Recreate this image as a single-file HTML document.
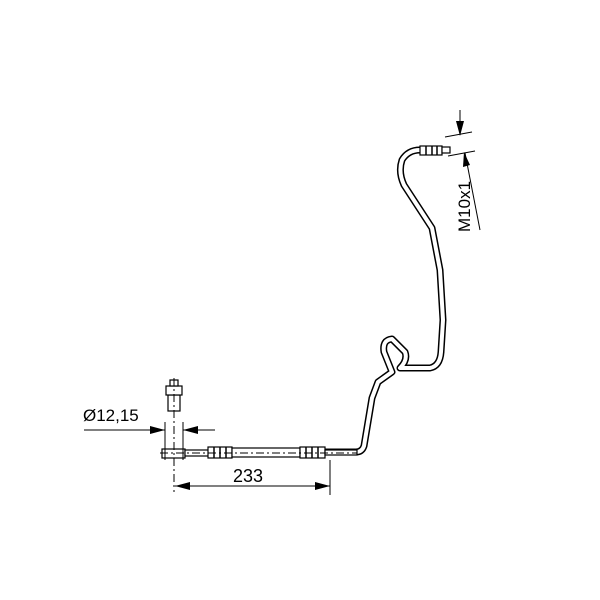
<!DOCTYPE html>
<html><head><style>body{margin:0;background:#fff}svg{display:block}</style></head><body>
<svg width="600" height="600" viewBox="0 0 600 600" xmlns="http://www.w3.org/2000/svg" font-family="Liberation Sans, sans-serif">
<rect width="600" height="600" fill="#fff"/>
<g fill="none" stroke-linejoin="round" stroke-linecap="round">
<path d="M325,452 L356,452 Q362,452 364,446 L372,398 L378,382 L392,372 L384,352 Q382,340 392,339 L405,352 Q408,360 400,368 L430,368 Q440,366 441,352 L443,320 L440,270 L432,228 L404,185 Q398,172 402,160 Q408,150 420,150 L428,150" stroke="#000" stroke-width="7"/>
<path d="M325,452 L356,452 Q362,452 364,446 L372,398 L378,382 L392,372 L384,352 Q382,340 392,339 L405,352 Q408,360 400,368 L430,368 Q440,366 441,352 L443,320 L440,270 L432,228 L404,185 Q398,172 402,160 Q408,150 420,150 L428,150" stroke="#fff" stroke-width="4"/>
</g>
<g stroke="#000" stroke-width="1.2" fill="#fff">
<rect x="162" y="449" width="23" height="9"/>
<rect x="185" y="450" width="24" height="6"/>
<rect x="208" y="447" width="24" height="11"/>
<rect x="232" y="448" width="68" height="9"/>
<rect x="300" y="447" width="25" height="11"/>
<rect x="325" y="450" width="32" height="5"/>
<rect x="168" y="395" width="12" height="16"/>
<rect x="166" y="386" width="16" height="9"/>
<rect x="170" y="380" width="8" height="6"/>
<rect x="420" y="146" width="22" height="9"/>
<rect x="442" y="147" width="8" height="6"/>
</g>
<g stroke="#000" stroke-width="1.5">
<line x1="214" y1="447" x2="214" y2="458"/><line x1="220" y1="447" x2="220" y2="458"/><line x1="226" y1="447" x2="226" y2="458"/>
<line x1="306" y1="447" x2="306" y2="458"/><line x1="312" y1="447" x2="312" y2="458"/><line x1="318" y1="447" x2="318" y2="458"/>
<line x1="426" y1="146" x2="426" y2="155"/><line x1="432" y1="146" x2="432" y2="155"/><line x1="437" y1="146" x2="437" y2="155"/>
</g>
<g stroke="#000" stroke-width="1" fill="none">
<line x1="174" y1="378" x2="174" y2="492" stroke-dasharray="8,3,2,3"/>
<line x1="160" y1="453" x2="357" y2="453" stroke-dasharray="8,3,2,3"/>
<line x1="165" y1="422" x2="165" y2="460"/><line x1="183" y1="422" x2="183" y2="460"/>
<line x1="84" y1="430" x2="165" y2="430"/><line x1="183" y1="430" x2="215" y2="430"/>
<line x1="330" y1="460" x2="330" y2="495"/>
<line x1="175" y1="486" x2="330" y2="486"/>
<line x1="445" y1="137" x2="472" y2="132"/><line x1="448" y1="156" x2="475" y2="151"/>
<line x1="460" y1="110" x2="460" y2="135"/><line x1="465" y1="153" x2="480" y2="230"/>
</g>
<g fill="#000">
<polygon points="165,430 150,426 150,434"/>
<polygon points="183,430 198,426 198,434"/>
<polygon points="175,486 190,482 190,490"/>
<polygon points="330,486 315,482 315,490"/>
<polygon points="460,136 456,121 464,121"/>
<polygon points="464,152 463,167 470,165"/>
</g>
<text x="83" y="421" font-size="17">Ø12,15</text>
<text x="233" y="482" font-size="18">233</text>
<text transform="translate(470,232) rotate(-90)" font-size="17">M10x1</text>
</svg>
</body></html>
